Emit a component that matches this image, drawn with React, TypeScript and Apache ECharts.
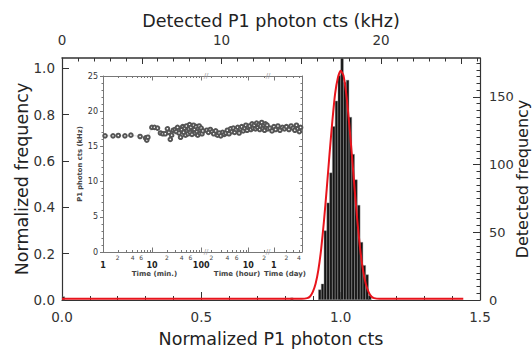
import React, { useEffect, useRef } from "react";
import * as echarts from "echarts";

// ---- Main histogram (normalized P1 photon counts) ----
const histCenters = [0.005, 0.825, 0.925, 0.935, 0.945, 0.955, 0.965, 0.975, 0.985, 0.995, 1.005, 1.015, 1.025, 1.035, 1.045, 1.055, 1.065, 1.075, 1.085, 1.095, 1.105];
const histHeights = [0.015, 0.01, 0.045, 0.07, 0.3, 0.42, 0.55, 0.75, 0.86, 0.97, 1.045, 0.94, 0.95, 0.79, 0.63, 0.52, 0.41, 0.25, 0.15, 0.11, 0.02];

// ---- Red fitted curve ----
const fitX = [0, 0.86, 0.88, 0.89, 0.9, 0.91, 0.92, 0.93, 0.94, 0.95, 0.96, 0.97, 0.98, 0.99, 1.0, 1.01, 1.02, 1.03, 1.04, 1.05, 1.06, 1.07, 1.08, 1.09, 1.1, 1.11, 1.12, 1.14, 1.44];
const fitY = [0.005, 0.005, 0.008, 0.015, 0.035, 0.07, 0.13, 0.22, 0.34, 0.48, 0.63, 0.77, 0.89, 0.96, 0.99, 0.97, 0.89, 0.77, 0.63, 0.48, 0.34, 0.22, 0.13, 0.07, 0.035, 0.015, 0.008, 0.005, 0.005];

// ---- Inset: detected rate vs time ----
const minutesT = [1.1, 1.6, 2.05, 2.8, 3.7, 5.7, 7.4, 7.8, 8.2, 9.9, 11.2, 12.9, 14.8, 16.5, 18.6, 20.5, 22, 23.5, 25, 27, 29.5, 31, 33, 35.5, 38, 40, 42, 44, 46, 48, 50, 52, 54, 56, 58, 60, 62, 65, 68, 70, 73, 76, 79, 82, 85, 88, 91, 94, 97, 100, 104, 108];
const minutesKhz = [16.5, 16.5, 16.55, 16.5, 16.6, 16.4, 16.2, 15.9, 16.3, 17.7, 17.7, 17.6, 16.9, 16.8, 16.8, 17.5, 17.0, 16.0, 16.6, 17.3, 17.4, 17.1, 17.7, 16.9, 16.3, 17.4, 17.8, 17.0, 17.6, 16.6, 17.9, 17.2, 16.8, 17.5, 18.1, 17.0, 17.7, 16.7, 17.3, 18.0, 17.4, 16.9, 17.8, 17.1, 16.6, 17.5, 17.9, 16.9, 17.3, 17.6, 16.8, 17.2];
const hoursT = [1.62, 1.75, 1.9, 2.05, 2.2, 2.4, 2.6, 2.8, 3.0, 3.25, 3.5, 3.75, 4.0, 4.3, 4.6, 4.9, 5.2, 5.5, 5.9, 6.3, 6.7, 7.1, 7.5, 8.0, 8.5, 9.0, 9.5, 10, 10.6, 11.2, 11.8, 12.4, 13, 13.7, 14.4, 15.1, 15.8, 16.5, 17.2, 18, 18.8, 19.6, 20.4, 21.2, 22, 22.8, 23.6, 24.4];
const hoursKhz = [17.3, 17.0, 17.4, 17.1, 16.8, 17.2, 16.6, 16.9, 16.5, 17.0, 16.7, 16.9, 17.3, 16.8, 17.5, 17.1, 17.6, 17.0, 17.4, 17.7, 16.9, 17.5, 17.8, 17.2, 17.6, 18.0, 17.3, 17.7, 17.9, 17.4, 18.2, 17.6, 18.0, 17.5, 18.3, 17.7, 18.1, 17.4, 17.9, 18.4, 17.6, 18.0, 17.3, 18.2, 17.7, 18.0, 17.5, 17.9];
const daysT = [0.8, 0.9, 1.0, 1.1, 1.25, 1.4, 1.6, 1.8, 2.0, 2.3, 2.6, 2.9, 3.2, 3.5, 3.8, 4.1, 4.4];
const daysKhz = [17.6, 17.2, 17.8, 17.4, 17.9, 17.3, 17.7, 17.5, 17.8, 17.4, 17.9, 17.6, 17.3, 18.0, 17.5, 17.1, 17.7];

// tick / label values
const leftTicks = [0, 0.2, 0.4, 0.6, 0.8, 1.0];
const rightMajor = [0, 50, 100, 150];
const rightMinor = [5, 10, 15, 20, 25, 30, 35, 40, 45, 55, 60, 65, 70, 75, 80, 85, 90, 95, 105, 110, 115, 120, 125, 130, 135, 140, 145, 155, 160, 165, 170, 175];
const topMajor = [0, 5, 10, 15, 20, 25];
const topMinor = [1, 2, 3, 4, 6, 7, 8, 9, 11, 12, 13, 14, 16, 17, 18, 19, 21, 22, 23, 24, 26];
const topLabels = [0, 10, 20];

const minMinorTicks = [2, 3, 4, 5, 6, 7, 8, 9, 20, 30, 40, 50, 60, 70, 80, 90];
const minMajorTicks = [10, 100];
const minMinorLabels = [2, 4, 6, 20, 40, 60];
const minMajorLabels = [1, 10, 100];
const hourMinorTicks = [2, 3, 4, 5, 6, 7, 8, 9, 20];
const hourMajorTicks = [10];
const hourMinorLabels = [2, 4, 6, 20];
const hourMajorLabels = [10];
const dayMinorTicks = [2, 3, 4];
const dayMajorTicks = [1];
const dayMinorLabels = [2, 4];
const dayMajorLabels = [1];

const FONT = "DejaVu Sans";
const TICK_FS = 13.5;
const lg = (a: number[]) => a.map((v) => Math.log10(v));

// geometry
const G = { left: 62, right: 52, top: 58, bottom: 51 };
const INSET_TOP = 76;
const INSET_H = 176;
const SEG = [
  { left: 103, width: 103, min: 0, max: 2.098 },
  { left: 206, width: 62, min: 0.196, max: 1.375 },
  { left: 268, width: 34, min: -0.142, max: 0.677 },
];

function segAxes(gi: number, seg: any, minorT: number[], majorT: number[], minorL: number[], majorL: number[], name: string) {
  const base = {
    type: "value",
    gridIndex: gi,
    min: seg.min,
    max: seg.max,
    splitLine: { show: false },
  };
  const line = { show: true, onZero: false, lineStyle: { color: "#777", width: 1 } };
  const noLine = { show: false, onZero: false };
  return [
    {
      ...base,
      position: "bottom",
      axisLine: line,
      axisTick: { show: true, inside: true, length: 2, customValues: lg(minorT), lineStyle: { color: "#777" } },
      axisLabel: {
        show: true,
        customValues: lg(minorL),
        margin: 2,
        fontSize: 6,
        color: "#444",
        fontFamily: FONT,
        formatter: (v: number) => String(Math.round(Math.pow(10, v)))[0],
      },
    },
    {
      ...base,
      position: "bottom",
      axisLine: noLine,
      axisTick: { show: true, inside: true, length: 4.5, customValues: lg(majorT), lineStyle: { color: "#777" } },
      axisLabel: {
        show: true,
        customValues: lg(majorL),
        margin: 9,
        fontSize: 8,
        fontWeight: "bold",
        color: "#222",
        fontFamily: FONT,
        formatter: (v: number) => String(Math.round(Math.pow(10, v))),
      },
      name,
      nameLocation: "middle",
      nameGap: 18,
      nameMoveOverlap: false,
      nameTextStyle: { fontSize: 7, fontWeight: "bold", color: "#444", fontFamily: FONT },
    },
    {
      ...base,
      position: "top",
      axisLine: line,
      axisTick: { show: true, inside: true, length: 2, customValues: lg(minorT), lineStyle: { color: "#777" } },
      axisLabel: { show: false },
    },
    {
      ...base,
      position: "top",
      axisLine: noLine,
      axisTick: { show: true, inside: true, length: 4.5, customValues: lg(majorT), lineStyle: { color: "#777" } },
      axisLabel: { show: false },
    },
  ];
}

export default function App() {
  const ref = useRef<HTMLDivElement>(null);
  useEffect(() => {
    if (!ref.current) return;
    document.body.style.margin = "0";
    const chart = echarts.init(ref.current, undefined, { renderer: "svg" });
    const axisColor = "#333";
    const grids = [
      { ...G, outerBoundsMode: "none" },
      ...SEG.map((s) => ({ left: s.left, width: s.width, top: INSET_TOP, height: INSET_H, outerBoundsMode: "none" })),
    ];
    const xAxis: any[] = [
      {
        type: "value",
        gridIndex: 0,
        position: "bottom",
        min: 0,
        max: 1.5,
        interval: 0.5,
        axisLine: { show: true, onZero: false, lineStyle: { color: axisColor, width: 1.2 } },
        axisTick: { show: true, inside: true, length: 8, lineStyle: { color: axisColor } },
        minorTick: { show: true, splitNumber: 5, length: 4, lineStyle: { color: axisColor } },
        axisLabel: { margin: 10, fontSize: TICK_FS, color: "#333", fontFamily: FONT, formatter: (v: number) => v.toFixed(1) },
        splitLine: { show: false },
        name: "Normalized P1 photon cts",
        nameLocation: "middle",
        nameGap: 30,
        nameMoveOverlap: false,
        nameTextStyle: { fontSize: 17.5, color: "#222", fontFamily: FONT },
      },
      {
        type: "value",
        gridIndex: 0,
        position: "top",
        min: 0,
        max: 26.2,
        axisLine: { show: true, onZero: false, lineStyle: { color: axisColor, width: 1.5 } },
        axisTick: { show: true, inside: true, length: 6, customValues: topMajor, lineStyle: { color: axisColor } },
        axisLabel: { show: true, customValues: topLabels, margin: 11, fontSize: TICK_FS, color: "#333", fontFamily: FONT },
        splitLine: { show: false },
        name: "Detected P1 photon cts (kHz)",
        nameLocation: "middle",
        nameGap: 28,
        nameMoveOverlap: false,
        nameTextStyle: { fontSize: 17.5, color: "#222", fontFamily: FONT },
      },
      {
        type: "value",
        gridIndex: 0,
        position: "top",
        min: 0,
        max: 26.2,
        axisLine: { show: false, onZero: false },
        axisTick: { show: true, inside: true, length: 3.5, customValues: topMinor, lineStyle: { color: axisColor } },
        axisLabel: { show: false },
        splitLine: { show: false },
      },
      ...segAxes(1, SEG[0], minMinorTicks, minMajorTicks, minMinorLabels, minMajorLabels, "Time (min.)"),
      ...segAxes(2, SEG[1], hourMinorTicks, hourMajorTicks, hourMinorLabels, hourMajorLabels, "Time (hour)"),
      ...segAxes(3, SEG[2], dayMinorTicks, dayMajorTicks, dayMinorLabels, dayMajorLabels, "Time (day)"),
    ];
    const insetY = {
      type: "value",
      min: 0,
      max: 25,
      interval: 5,
      splitLine: { show: false },
    };
    const yAxis: any[] = [
      {
        type: "value",
        gridIndex: 0,
        position: "left",
        min: 0,
        max: 1.045,
        axisLine: { show: true, onZero: false, lineStyle: { color: axisColor, width: 1.2 } },
        axisTick: { show: true, inside: true, length: 7, customValues: leftTicks, lineStyle: { color: axisColor } },
        axisLabel: { show: true, customValues: leftTicks, margin: 7, fontSize: TICK_FS, color: "#333", fontFamily: FONT, formatter: (v: number) => v.toFixed(1) },
        splitLine: { show: false },
        name: "Normalized frequency",
        nameLocation: "middle",
        nameGap: 31,
        nameRotate: 90,
        nameMoveOverlap: false,
        nameTextStyle: { fontSize: 17.5, color: "#222", fontFamily: FONT },
      },
      {
        type: "value",
        gridIndex: 0,
        position: "right",
        min: 0,
        max: 178.7,
        axisLine: { show: true, onZero: false, lineStyle: { color: axisColor, width: 1.2 } },
        axisTick: { show: true, inside: true, length: 7, customValues: rightMajor, lineStyle: { color: axisColor } },
        axisLabel: { show: true, customValues: rightMajor, margin: 9, fontSize: 13, color: "#333", fontFamily: FONT },
        splitLine: { show: false },
        name: "Detected frequency",
        nameLocation: "middle",
        nameGap: 34,
        nameRotate: 90,
        nameMoveOverlap: false,
        nameTextStyle: { fontSize: 16, color: "#222", fontFamily: FONT, lineHeight: 17 },
      },
      {
        type: "value",
        gridIndex: 0,
        position: "right",
        min: 0,
        max: 178.7,
        axisLine: { show: false, onZero: false },
        axisTick: { show: true, inside: true, length: 3.5, customValues: rightMinor, lineStyle: { color: axisColor } },
        axisLabel: { show: false },
        splitLine: { show: false },
      },
      {
        ...insetY,
        gridIndex: 1,
        position: "left",
        axisLine: { show: true, onZero: false, lineStyle: { color: "#777", width: 1 } },
        axisTick: { show: true, inside: false, length: 3, lineStyle: { color: "#777" } },
        minorTick: { show: true, splitNumber: 5, length: 1.5, lineStyle: { color: "#777" } },
        axisLabel: { show: true, margin: 5, fontSize: 8, color: "#333", fontFamily: FONT },
        name: "P1 photon cts (kHz)",
        nameLocation: "middle",
        nameGap: 20,
        nameRotate: 90,
        nameMoveOverlap: false,
        nameTextStyle: { fontSize: 6.8, fontWeight: "bold", color: "#444", fontFamily: FONT },
      },
      { ...insetY, gridIndex: 2, show: false, axisLine: { show: false, onZero: false } },
      {
        ...insetY,
        gridIndex: 3,
        position: "right",
        axisLine: { show: true, onZero: false, lineStyle: { color: "#777", width: 1 } },
        axisTick: { show: true, inside: true, length: 3, lineStyle: { color: "#777" } },
        minorTick: { show: true, splitNumber: 5, length: 1.5, lineStyle: { color: "#777" } },
        axisLabel: { show: false },
      },
    ];
    const insetSeries = (xi: number, yi: number, t: number[], v: number[]) => ({
      type: "line",
      xAxisIndex: xi,
      yAxisIndex: yi,
      data: t.map((tt, i) => [Math.log10(tt), v[i]]),
      symbol: "emptyCircle",
      symbolSize: 3.6,
      itemStyle: { color: "#555", borderWidth: 0.5 },
      lineStyle: { type: "dotted", width: 0.6, color: "#999" },
      silent: true,
    });
    const breakMark = (x: number, y: number) => ({
      type: "text",
      x,
      y,
      style: { text: "//", fontSize: 7, fill: "#999", fontFamily: FONT, align: "center", verticalAlign: "middle" },
      z: 100,
    });
    chart.setOption({
      animation: false,
      textStyle: { fontFamily: FONT },
      grid: grids,
      xAxis,
      yAxis,
      series: [
        {
          type: "bar",
          xAxisIndex: 0,
          yAxisIndex: 0,
          data: histCenters.map((c, i) => [c, histHeights[i]]),
          barWidth: 3,
          itemStyle: { color: "#141414", borderColor: "#8a8a8a", borderWidth: 0.4 },
          silent: true,
        },
        {
          type: "line",
          xAxisIndex: 0,
          yAxisIndex: 0,
          data: fitX.map((x, i) => [x, fitY[i]]),
          smooth: 0.2,
          symbol: "none",
          lineStyle: { color: "#e8141c", width: 2 },
          z: 5,
          silent: true,
        },
        insetSeries(3, 3, minutesT, minutesKhz),
        insetSeries(7, 4, hoursT, hoursKhz),
        insetSeries(11, 5, daysT, daysKhz),
      ],
      graphic: [
        breakMark(SEG[1].left, INSET_TOP),
        breakMark(SEG[2].left, INSET_TOP),
        breakMark(SEG[1].left, INSET_TOP + INSET_H),
        breakMark(SEG[2].left, INSET_TOP + INSET_H),
      ],
    });
    return () => chart.dispose();
  }, []);
  return <div ref={ref} style={{ position: "absolute", left: 0, top: 0, width: 532, height: 351 }} />;
}
